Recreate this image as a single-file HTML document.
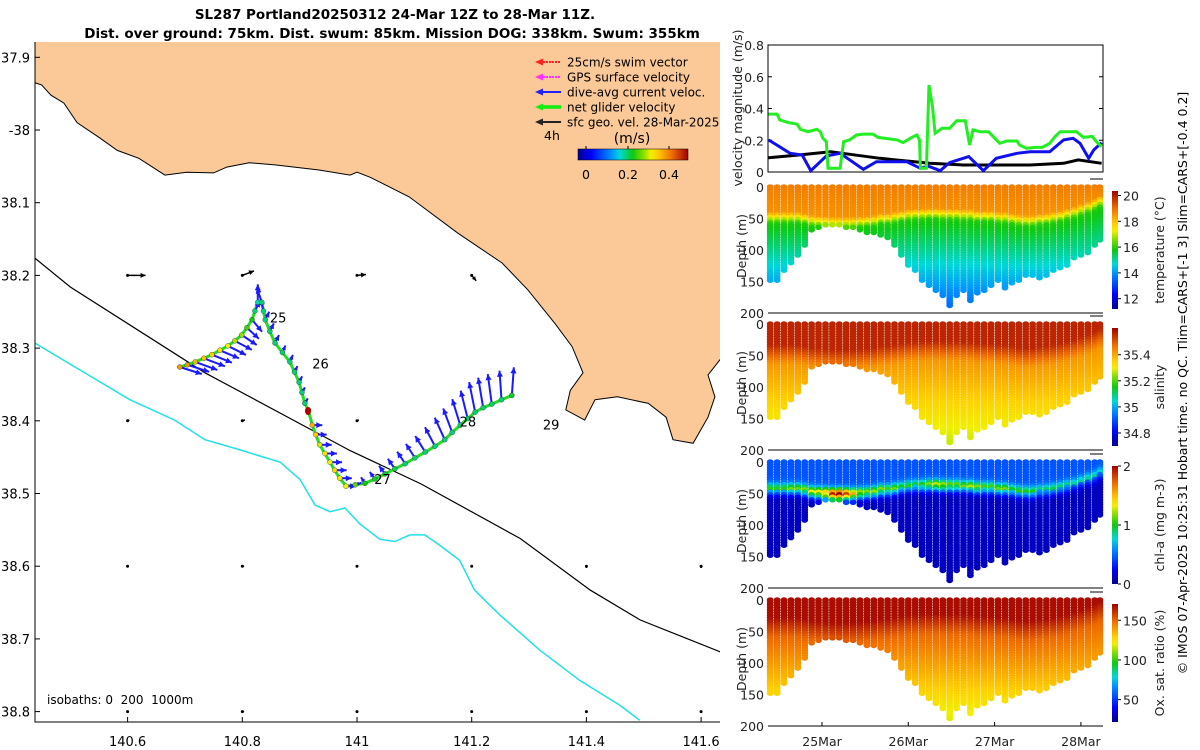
<!DOCTYPE html>
<html><head><meta charset="utf-8"><title>SL287 glider</title>
<style>
html,body{margin:0;padding:0;background:#fff;}
svg{display:block;font-family:"DejaVu Sans","Liberation Sans",sans-serif;}
</style></head>
<body>
<svg id="chart" width="1200" height="750" viewBox="0 0 1200 750" xmlns="http://www.w3.org/2000/svg">
<defs>
<clipPath id="mapclip"><rect x="35" y="42" width="685" height="680"/></clipPath>
<linearGradient id="jetH" x1="0" x2="1" y1="0" y2="0">
<stop offset="0" stop-color="#00008f"/><stop offset="0.12" stop-color="#0000ff"/><stop offset="0.3" stop-color="#0090ff"/><stop offset="0.38" stop-color="#00d8d8"/><stop offset="0.5" stop-color="#10c810"/><stop offset="0.6" stop-color="#90e000"/><stop offset="0.66" stop-color="#f0f000"/><stop offset="0.72" stop-color="#ffd000"/><stop offset="0.85" stop-color="#f07000"/><stop offset="1" stop-color="#a00000"/>
</linearGradient>
<linearGradient id="jetV" x1="0" x2="0" y1="1" y2="0">
<stop offset="0" stop-color="#00008f"/><stop offset="0.12" stop-color="#0000ff"/><stop offset="0.3" stop-color="#0090ff"/><stop offset="0.38" stop-color="#00d8d8"/><stop offset="0.5" stop-color="#10c810"/><stop offset="0.6" stop-color="#90e000"/><stop offset="0.66" stop-color="#f0f000"/><stop offset="0.72" stop-color="#ffd000"/><stop offset="0.85" stop-color="#f07000"/><stop offset="1" stop-color="#a00000"/>
</linearGradient>
</defs>
<text x="395" y="19" text-anchor="middle" font-size="13.5" font-weight="bold">SL287 Portland20250312 24-Mar 12Z to 28-Mar 11Z.</text>
<text x="392" y="38" text-anchor="middle" font-size="13.5" font-weight="bold">Dist. over ground: 75km. Dist. swum: 85km. Mission DOG: 338km. Swum: 355km</text>
<text transform="translate(1187,383) rotate(-90)" text-anchor="middle" font-size="12.5">© IMOS 07-Apr-2025 10:25:31 Hobart time. no QC. Tlim=CARS+[-1 3] Slim=CARS+[-0.4 0.2]</text>
</svg>
<script>
// ---------------- DATA ----------------
const lonTicks = [140.6, 140.8, 141, 141.2, 141.4, 141.6];
const lonTickLabels = ['140.6', '140.8', '141', '141.2', '141.4', '141.6'];
const latTicks = [37.9, 38.0, 38.1, 38.2, 38.3, 38.4, 38.5, 38.6, 38.7, 38.8];
const latTickLabels = ['37.9', '-38', '38.1', '38.2', '38.3', '38.4', '38.5', '38.6', '38.7', '38.8'];
const coastLon = [140.438,140.450,140.466,140.489,140.512,140.550,140.582,140.620,140.665,140.703,140.750,140.773,140.812,140.857,140.934,140.988,141.000,141.023,141.091,141.176,141.253,141.298,141.345,141.375,141.394,141.372,141.364,141.397,141.415,141.454,141.508,141.539,141.551,141.586,141.612,141.624,141.612,141.640];
const coastLat = [37.935,37.938,37.952,37.963,37.990,38.010,38.028,38.039,38.062,38.058,38.059,38.051,38.045,38.048,38.055,38.062,38.058,38.065,38.092,38.142,38.183,38.220,38.266,38.298,38.334,38.358,38.385,38.399,38.371,38.367,38.376,38.395,38.426,38.431,38.395,38.367,38.337,38.309];
const iso200Lon = [140.438,140.500,140.735,140.988,141.112,141.285,141.407,141.494,141.634];
const iso200Lat = [38.176,38.216,38.334,38.441,38.487,38.562,38.633,38.674,38.718];
const iso1000Lon = [140.438,140.604,140.682,140.735,140.796,140.866,140.901,140.927,140.953,140.979,141.005,141.040,141.066,141.092,141.118,141.144,141.179,141.205,141.249,141.318,141.388,141.458,141.493];
const iso1000Lat = [38.293,38.371,38.399,38.426,38.440,38.457,38.481,38.516,38.525,38.520,38.542,38.563,38.566,38.557,38.557,38.571,38.592,38.633,38.667,38.715,38.757,38.791,38.812];
const trackLon = [140.691,140.704,140.718,140.733,140.747,140.761,140.775,140.787,140.799,140.808,140.817,140.822,140.827,140.834,140.837,140.840,140.848,140.857,140.870,140.883,140.891,140.899,140.904,140.909,140.915,140.922,140.928,140.935,140.944,140.953,140.961,140.970,140.981,140.997,141.014,141.031,141.049,141.066,141.084,141.101,141.119,141.136,141.153,141.166,141.180,141.193,141.206,141.220,141.235,141.252,141.270];
const trackLat = [38.326,38.323,38.319,38.314,38.309,38.303,38.297,38.290,38.282,38.272,38.261,38.249,38.237,38.237,38.249,38.261,38.277,38.293,38.306,38.319,38.333,38.347,38.361,38.376,38.385,38.406,38.419,38.433,38.445,38.457,38.468,38.479,38.490,38.488,38.486,38.480,38.473,38.466,38.459,38.451,38.443,38.435,38.426,38.416,38.406,38.397,38.388,38.382,38.377,38.371,38.365];
const trackSpeed = [0.40,0.40,0.38,0.37,0.36,0.34,0.33,0.31,0.30,0.27,0.25,0.22,0.20,0.22,0.22,0.22,0.22,0.22,0.22,0.22,0.22,0.22,0.22,0.22,0.45,0.38,0.36,0.32,0.34,0.33,0.35,0.34,0.33,0.28,0.25,0.24,0.24,0.23,0.22,0.22,0.22,0.22,0.22,0.22,0.22,0.22,0.22,0.22,0.22,0.22,0.24];
const curU = [0.22,0.22,0.22,0.21,0.20,0.19,0.18,0.17,0.15,0.12,0.10,0.05,0.00,-0.05,-0.03,0.04,0.04,0.04,0.03,0.03,0.03,0.03,0.03,0.03,0,0.10,0.11,0.12,0.12,0.12,0.12,0.12,0.10,0.06,-0.04,-0.05,-0.06,-0.07,-0.08,-0.09,-0.10,-0.10,-0.10,-0.09,-0.08,-0.07,-0.06,-0.05,-0.04,-0.02,0.02];
const curV = [-0.07,-0.07,-0.08,-0.08,-0.08,-0.08,-0.09,-0.09,-0.10,-0.11,-0.12,0.10,0.18,0.15,0.12,0.08,0.08,0.08,0.07,0.07,0.06,0.06,0.05,0.05,0,0.00,0.00,0.00,0.00,0.00,0.00,0.00,0.00,0.02,0.06,0.07,0.08,0.10,0.12,0.14,0.16,0.19,0.22,0.24,0.26,0.28,0.30,0.30,0.30,0.29,0.28];
const dayLabels = ['25','26','27','28','29'];
const dayLon = [140.848,140.922,141.030,141.179,141.324];
const dayLat = [38.265,38.328,38.487,38.408,38.412];
const geoLon = [140.6,140.8,141.0,141.2, 140.6,140.8,141.0, 140.6,140.8,141.0,141.2,141.4,141.6, 140.6,140.8,141.0,141.2,141.4,141.6];
const geoLat = [38.2,38.2,38.2,38.2, 38.4,38.4,38.4, 38.6,38.6,38.6,38.6,38.6,38.6, 38.8,38.8,38.8,38.8,38.8,38.8];
const geoU = [0.20,0.13,0.10,0.05, 0.02,0.03,0.02, 0.01,0.02,0.01,0.00,0.00,0.00, 0.01,0.02,0.01,0.00,0.01,0.00];
const geoV = [0.00,0.05,0.01,-0.06, 0.01,0.01,0.01, 0.00,0.00,0.00,-0.01,-0.02,-0.02, 0.00,0.00,0.00,-0.01,0.00,0.00];

const velTicks = [0, 0.2, 0.4, 0.6, 0.8];
const velTickLabels = ['0', '0.2', '0.4', '0.6', '0.8'];
const netDays = [24.38,24.48,24.51,24.61,24.71,24.75,24.84,24.94,24.98,25.01,25.05,25.07,25.21,25.25,25.32,25.40,25.48,25.59,25.65,25.87,25.94,26.04,26.10,26.13,26.14,26.21,26.24,26.28,26.31,26.39,26.48,26.56,26.66,26.71,26.75,26.83,26.93,27.02,27.06,27.14,27.26,27.29,27.37,27.47,27.55,27.64,27.70,27.76,27.95,28.03,28.13,28.18,28.24];
const netVel = [0.365,0.365,0.328,0.311,0.302,0.269,0.254,0.269,0.254,0.212,0.191,0.023,0.023,0.191,0.202,0.233,0.239,0.239,0.218,0.202,0.185,0.218,0.233,0.202,0.023,0.023,0.548,0.411,0.244,0.275,0.275,0.323,0.323,0.170,0.265,0.254,0.254,0.202,0.181,0.195,0.195,0.170,0.149,0.155,0.155,0.181,0.223,0.254,0.254,0.218,0.225,0.191,0.160];
const curDays = [24.38,24.63,24.77,24.87,25.05,25.21,25.48,25.63,25.98,26.14,26.23,26.37,26.48,26.70,26.87,27.02,27.26,27.41,27.64,27.80,27.91,27.99,28.09,28.15,28.24];
const curVel = [0.202,0.118,0.107,0.008,0.101,0.118,0.017,0.065,0.065,0.023,0.037,0.008,0.059,0.097,0.008,0.086,0.118,0.128,0.128,0.202,0.212,0.181,0.086,0.139,0.185];
const geoDays = [24.38,24.70,25.10,25.67,26.25,26.64,27.41,27.80,27.97,28.24];
const geoVel = [0.090,0.105,0.128,0.086,0.055,0.044,0.044,0.055,0.076,0.055];

const dateTicks = [25, 26, 27, 28];
const dateTickLabels = ['25Mar', '26Mar', '27Mar', '28Mar'];
const depthTicks = [0, 50, 100, 150, 200];
const profileDays = [24.40,24.48,24.56,24.64,24.72,24.80,24.88,24.96,25.04,25.12,25.20,25.28,25.36,25.44,25.52,25.60,25.68,25.76,25.84,25.92,26.00,26.08,26.16,26.24,26.32,26.40,26.48,26.56,26.64,26.72,26.80,26.88,26.96,27.04,27.12,27.20,27.28,27.36,27.44,27.52,27.60,27.68,27.76,27.84,27.92,28.00,28.08,28.16,28.22];
const profileMaxDepth = [150,150,135,120,110,95,70,66,63,63,63,65,66,70,75,72,78,80,95,110,125,135,150,158,165,172,190,172,165,180,168,165,158,150,160,155,148,142,140,145,140,135,128,125,115,110,105,95,85];
const profileMld = [50,50,50,50,50,52,55,56,57,58,58,58,58,57,56,55,52,52,50,48,46,45,45,44,44,45,45,45,46,46,48,48,48,50,50,52,54,55,55,53,52,50,48,45,42,38,34,30,25];
const profileChlPeak = [0.6,0.6,0.6,0.7,0.7,0.8,0.9,1.0,1.2,1.5,1.6,1.4,1.1,0.9,0.8,0.8,0.8,0.7,0.7,0.6,0.6,0.6,0.7,0.8,0.9,0.9,0.8,0.8,0.7,0.8,0.8,0.7,0.7,0.7,0.7,0.6,0.6,0.6,0.6,0.5,0.5,0.5,0.5,0.5,0.4,0.4,0.4,0.4,0.4];
const tempCbarTicks = [12,14,16,18,20];
const salCbarTicks = [34.8,35,35.2,35.4];
const chlCbarTicks = [0,1,2];
const oxCbarTicks = [50,100,150];

// ---------------- HELPERS ----------------
const svg = document.getElementById('chart');
const NS = 'http://www.w3.org/2000/svg';
function add(tag, attrs, parent) {
  const e = document.createElementNS(NS, tag);
  for (const k in attrs) e.setAttribute(k, attrs[k]);
  (parent || svg).appendChild(e);
  return e;
}
const stops = [[0,[0,0,143]],[0.12,[0,0,255]],[0.3,[0,144,255]],[0.38,[0,216,216]],[0.5,[16,200,16]],[0.6,[144,224,0]],[0.66,[240,240,0]],[0.72,[255,208,0]],[0.85,[240,112,0]],[1,[160,0,0]]];
function jet(f) {
  f = Math.max(0, Math.min(1, f));
  for (let i = 1; i < stops.length; i++) {
    if (f <= stops[i][0]) {
      const a = stops[i-1], b = stops[i], t = (f - a[0]) / (b[0] - a[0]);
      const c = a[1].map((v, k) => Math.round(v + (b[1][k] - v) * t));
      return 'rgb(' + c.join(',') + ')';
    }
  }
  return 'rgb(160,0,0)';
}
const mx = lon => 357 + (lon - 141) * 573.5;
const my = lat => 130 + (lat - 38) * 727;

// ---------------- MAP ----------------
const mapG = add('g', {});


const mapClip = add('g', {'clip-path': 'url(#mapclip)'}, mapG);
const coastStr = coastLon.map((l, i) => mx(l).toFixed(1) + ',' + my(coastLat[i]).toFixed(1)).join(' ');
const land = add('polygon', {points: '35,42 ' + coastStr + ' 720,42', fill: '#fbc898', stroke: 'none'}, mapClip);


const coast = add('polyline', {points: coastStr, fill: 'none', stroke: '#000', 'stroke-width': 1}, mapClip);


const i200 = add('polyline', {points: iso200Lon.map((l, i) => mx(l).toFixed(1) + ',' + my(iso200Lat[i]).toFixed(1)).join(' '), fill: 'none', stroke: '#000', 'stroke-width': 1.2}, mapClip);


const i1000 = add('polyline', {points: iso1000Lon.map((l, i) => mx(l).toFixed(1) + ',' + my(iso1000Lat[i]).toFixed(1)).join(' '), fill: 'none', stroke: '#20e0e8', 'stroke-width': 1.5}, mapClip);



function arrow(parent, x, y, dx, dy, color, w, head) {
  const g = add('g', {}, parent);
  add('line', {x1: x, y1: y, x2: x + dx, y2: y + dy, stroke: color, 'stroke-width': w}, g);
  const L = Math.hypot(dx, dy);
  if (L > 2) {
    const ux = dx / L, uy = dy / L, h = Math.min(head, L * 0.6);
    const ex = x + dx, ey = y + dy;
    add('polygon', {points: ex + ',' + ey + ' ' + (ex - ux * h - uy * h * 0.5) + ',' + (ey - uy * h + ux * h * 0.5) + ' ' + (ex - ux * h + uy * h * 0.5) + ',' + (ey - uy * h - ux * h * 0.5), fill: color}, g);
  }
  return g;
}
for (let i = 0; i < geoLon.length; i++) {
  const a = arrow(mapClip, mx(geoLon[i]), my(geoLat[i]), geoU[i] * 90, -geoV[i] * 90, '#000', 1.5, 5);
  
  
  const d = add('circle', {cx: mx(geoLon[i]), cy: my(geoLat[i]), r: 1.5, fill: '#000'}, mapClip);
  
  
}
const trk = add('polyline', {points: trackLon.map((l, i) => mx(l).toFixed(1) + ',' + my(trackLat[i]).toFixed(1)).join(' '), fill: 'none', stroke: '#22dd22', 'stroke-width': 3}, mapClip);


for (let i = 0; i < trackLon.length; i++) {
  if (curU[i] === 0 && curV[i] === 0) continue;
  const a = arrow(mapClip, mx(trackLon[i]), my(trackLat[i]), curU[i] * 100, -curV[i] * 100, '#1a1aff', 2, 6);
  
  
}
for (let i = 0; i < trackLon.length; i++) {
  const c = add('circle', {cx: mx(trackLon[i]), cy: my(trackLat[i]), r: 2.5, fill: jet(trackSpeed[i] / 0.5), stroke: '#333', 'stroke-width': 0.4}, mapClip);
  
  
}
const rd = add('ellipse', {cx: 308, cy: 411, rx: 3, ry: 4, fill: '#b00000'}, mapClip);


for (let i = 0; i < dayLabels.length; i++) {
  const t = add('text', {x: mx(dayLon[i]), y: my(dayLat[i]), 'font-size': 13}, mapClip);
  t.textContent = dayLabels[i];
  
  
}
const isoT = add('text', {x: 47, y: 704, 'font-size': 12, style: 'white-space:pre'}, mapClip);
isoT.textContent = 'isobaths: 0  200  1000m';


const mAx = add('path', {d: 'M35,42 V722 H720', fill: 'none', stroke: '#000', 'stroke-width': 1}, mapG);


for (let i = 0; i < latTicks.length; i++) {
  const y = my(latTicks[i]);
  add('line', {x1: 35, y1: y, x2: 40, y2: y, stroke: '#000'}, mapG);
  const t = add('text', {x: 30, y: y + 5, 'text-anchor': 'end', 'font-size': 13}, mapG);
  t.textContent = latTickLabels[i];
  
  
}
for (let i = 0; i < lonTicks.length; i++) {
  const x = mx(lonTicks[i]);
  add('line', {x1: x, y1: 722, x2: x, y2: 717, stroke: '#000'}, mapG);
  const t = add('text', {x: x, y: 746, 'text-anchor': 'middle', 'font-size': 13}, mapG);
  t.textContent = lonTickLabels[i];
  
  
}
const leg = add('g', {}, mapG);


const legItems = [['25cm/s swim vector', '#ff2020', '2 1'], ['GPS surface velocity', '#ff30ff', '2 1'], ['dive-avg current veloc.', '#2020ff', ''], ['net glider velocity', '#10ee10', ''], ['sfc geo. vel. 28-Mar-2025', '#222', '']];
for (let i = 0; i < legItems.length; i++) {
  const y = 62 + i * 15;
  const g = add('g', {}, leg);
  
  
  add('line', {x1: 540, y1: y, x2: 561, y2: y, stroke: legItems[i][1], 'stroke-width': i === 3 ? 3.5 : 2, 'stroke-dasharray': legItems[i][2]}, g);
  add('polygon', {points: '535,' + y + ' 543,' + (y - 3.5) + ' 543,' + (y + 3.5), fill: legItems[i][1]}, g);
  const t = add('text', {x: 567, y: y + 4.5, 'font-size': 12}, g);
  t.textContent = legItems[i][0];
}
const t4 = add('text', {x: 544, y: 140, 'font-size': 12.5}, leg);
t4.textContent = '4h';


const tms = add('text', {x: 632, y: 143, 'text-anchor': 'middle', 'font-size': 14}, leg);
tms.textContent = '(m/s)';


const scb = add('rect', {x: 578, y: 149, width: 110, height: 11, fill: 'url(#jetH)', stroke: '#000', 'stroke-width': 0.5}, leg);


[['0', 586], ['0.2', 628], ['0.4', 669]].forEach(p => {
  add('line', {x1: p[1], y1: 146, x2: p[1], y2: 149, stroke: '#000'}, leg);
  const t = add('text', {x: p[1], y: 179, 'text-anchor': 'middle', 'font-size': 12.5}, leg);
  t.textContent = p[0];
  
  
});

// ---------------- RIGHT PANELS ----------------
const X0 = 768, X1 = 1103;
const dx = d => 822 + (d - 25) * 86.3;
const vy = v => 172 - v * 158.75;
const velG = add('g', {});


const vbox = add('rect', {x: X0, y: 45, width: X1 - X0, height: 127, fill: 'none', stroke: '#000', 'stroke-width': 1}, velG);


for (let i = 0; i < velTicks.length; i++) {
  const y = vy(velTicks[i]);
  add('line', {x1: X0, y1: y, x2: X0 + 4, y2: y, stroke: '#000'}, velG);
  add('line', {x1: X1, y1: y, x2: X1 - 4, y2: y, stroke: '#000'}, velG);
  const t = add('text', {x: 764, y: y + 5, 'text-anchor': 'end', 'font-size': 12.5, fill: '#222'}, velG);
  t.textContent = velTickLabels[i];
  
  
}
const vyl = add('text', {transform: 'translate(742,108) rotate(-90)', 'text-anchor': 'middle', 'font-size': 12.5, fill: '#222'}, velG);
vyl.textContent = 'velocity magnitude (m/s)';


const lGeo = add('polyline', {points: geoDays.map((d, i) => dx(d).toFixed(1) + ',' + vy(geoVel[i]).toFixed(1)).join(' '), fill: 'none', stroke: '#000', 'stroke-width': 3}, velG);


const lCur = add('polyline', {points: curDays.map((d, i) => dx(d).toFixed(1) + ',' + vy(curVel[i]).toFixed(1)).join(' '), fill: 'none', stroke: '#1010ee', 'stroke-width': 3}, velG);


const lNet = add('polyline', {points: netDays.map((d, i) => dx(d).toFixed(1) + ',' + vy(netVel[i]).toFixed(1)).join(' '), fill: 'none', stroke: '#22ee22', 'stroke-width': 3}, velG);



function tempVal(i, z) {
  const m = profileMld[i];
  if (z < m - 8) return 18.8 - 0.3 * z / m;
  if (z < m + 8) return 18.5 - (z - m + 8) / 16 * 2.6;
  return 15.9 - (z - m - 8) / (150 - m) * 1.8;
}
function salVal(i, z) {
  const m = profileMld[i];
  if (z < m - 15) return 35.56;
  if (z < m + 15) return 35.56 - (z - m + 15) / 30 * 0.14;
  return 35.42 - (z - m - 15) / (150 - m) * 0.12;
}
function chlVal(i, z) {
  const m = profileMld[i];
  const g = Math.exp(-Math.pow((z - (m - 5)) / 9, 2));
  const base = z < m - 5 ? 0.45 : 0.1;
  return base + profileChlPeak[i] * g;
}
function oxVal(i, z) {
  const m = profileMld[i];
  if (z < m - 20) return 168;
  if (z < m + 10) return 168 - (z - m + 20) / 30 * 18;
  return 150 - (z - m - 10) / (150 - m) * 25;
}
const panels = [
  {name: 'temperature', top: 179, bot: 313, fn: tempVal, vmin: 11.2, vmax: 20.35, ticks: tempCbarTicks, label: 'temperature (°C)'},
  {name: 'salinity', top: 316, bot: 450, fn: salVal, vmin: 34.70, vmax: 35.605, ticks: salCbarTicks, label: 'salinity'},
  {name: 'chlorophyll', top: 454, bot: 588, fn: chlVal, vmin: 0, vmax: 2, ticks: chlCbarTicks, label: 'chl-a (mg m-3)'},
  {name: 'oxygen', top: 592, bot: 726, fn: oxVal, vmin: 21.8, vmax: 170.5, ticks: oxCbarTicks, label: 'Ox. sat. ratio (%)'}
];
panels.forEach((p, pi) => {
  const g = add('g', {});
  
  
  const z0 = p.top + 8;
  const zy = z => z0 + z * (p.bot - z0) / 200;
  const dots = add('g', {}, g);
  
  
  for (let i = 0; i < profileDays.length; i++) {
    for (let z = 0; z <= profileMaxDepth[i]; z += 4) {
      const v = p.fn(i, z);
      add('ellipse', {cx: dx(profileDays[i]).toFixed(1), cy: zy(z).toFixed(1), rx: 3.4, ry: 2.8, fill: jet((v - p.vmin) / (p.vmax - p.vmin))}, dots);
    }
  }
  add('line', {x1: X0, y1: p.bot, x2: X1, y2: p.bot, stroke: '#000', 'stroke-width': 1}, g);
  add('line', {x1: 1090, y1: p.top, x2: X1, y2: p.top, stroke: '#000', 'stroke-width': 1}, g);
  depthTicks.forEach(d => {
    const t = add('text', {x: 764, y: zy(d) + 5, 'text-anchor': 'end', 'font-size': 12.5, fill: '#222'}, g);
    t.textContent = String(d);
    
    
  });
  const yl = add('text', {transform: 'translate(746,' + ((p.top + p.bot) / 2) + ') rotate(-90)', 'text-anchor': 'middle', 'font-size': 12.5, fill: '#222'}, g);
  yl.textContent = 'Depth (m)';
  
  
  const cT = p.top + 12, cB = p.bot - 4;
  const cb = add('rect', {x: 1112, y: cT, width: 6, height: cB - cT, fill: 'url(#jetV)'}, g);
  
  
  p.ticks.forEach(v => {
    const y = cB - (v - p.vmin) / (p.vmax - p.vmin) * (cB - cT);
    add('line', {x1: 1118, y1: y, x2: 1121, y2: y, stroke: '#000'}, g);
    const t = add('text', {x: 1123, y: y + 5, 'font-size': 12.5, fill: '#222'}, g);
    t.textContent = String(v);
    
    
  });
  const cl = add('text', {transform: 'translate(1164,' + ((cT + cB) / 2) + ') rotate(-90)', 'text-anchor': 'middle', 'font-size': 12.5, fill: '#222'}, g);
  cl.textContent = p.label;
  
  
});
for (let i = 0; i < dateTicks.length; i++) {
  const x = dx(dateTicks[i]);
  add('line', {x1: x, y1: 726, x2: x, y2: 722, stroke: '#000'});
  const t = add('text', {x: x, y: 746, 'text-anchor': 'middle', 'font-size': 12.5, fill: '#222'});
  t.textContent = dateTickLabels[i];
  
  
}
</script>
</body></html>
